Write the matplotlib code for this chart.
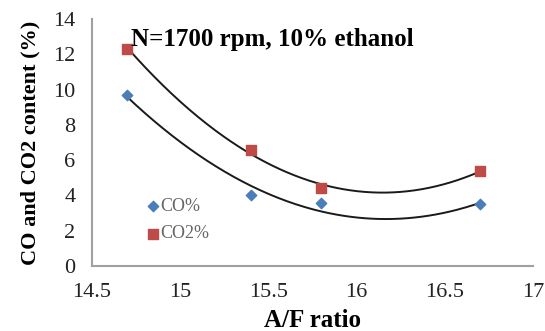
import numpy as np
import matplotlib
matplotlib.use("Agg")
import matplotlib.pyplot as plt

af_ratio = [14.7, 15.4, 15.8, 16.7]
co_pct = [9.7, 4.0, 3.6, 3.5]
co2_pct = [12.3, 6.6, 4.4, 5.4]
x_ticks = [14.5, 15, 15.5, 16, 16.5, 17]
y_ticks = [0, 2, 4, 6, 8, 10, 12, 14]

plt.rcParams['font.family'] = ['Liberation Serif', 'DejaVu Serif']

fig = plt.figure(figsize=(5.45, 3.31), dpi=100)
ax = fig.add_axes([0.169, 0.196, 0.809, 0.747])

xs = np.linspace(min(af_ratio), max(af_ratio), 200)
for ys in (co_pct, co2_pct):
    p = np.polyfit(af_ratio, ys, 2)
    ax.plot(xs, np.polyval(p, xs), color='#1a1a1a', lw=1.4, zorder=2)

ax.scatter(af_ratio, co_pct, marker='D', s=28, color='#4a7ebb', label='CO%', zorder=3)
ax.scatter(af_ratio, co2_pct, marker='s', s=60, color='#be4b48', label='CO2%', zorder=3)

ax.set_xlim(14.5, 17)
ax.set_ylim(0, 14)
ax.set_xticks(x_ticks)
ax.set_xticklabels([f"{t:g}" for t in x_ticks])
ax.set_yticks(y_ticks)
ax.tick_params(length=0, labelsize=16, colors='#222222', pad=12)
for s in ('top', 'right'):
    ax.spines[s].set_visible(False)
for s in ('left', 'bottom'):
    ax.spines[s].set_color('#a0a0a0')
    ax.spines[s].set_linewidth(1.5)

ax.set_xlabel('A/F ratio', fontsize=18, fontweight='bold', labelpad=5)
ax.set_ylabel('CO and CO2 content (%)', fontsize=16, fontweight='bold', labelpad=9)
ax.text(14.72, 12.45, 'N=1700 rpm, 10% ethanol', fontsize=18, fontweight='bold', va='baseline')

leg = ax.legend(loc='lower left', bbox_to_anchor=(0.08, 0.03), frameon=False, fontsize=13,
                handletextpad=-0.1, labelspacing=0.6, handlelength=1.0, markerscale=1.0)
for t in leg.get_texts():
    t.set_color('#666666')

fig.savefig('out.png', dpi=100)
